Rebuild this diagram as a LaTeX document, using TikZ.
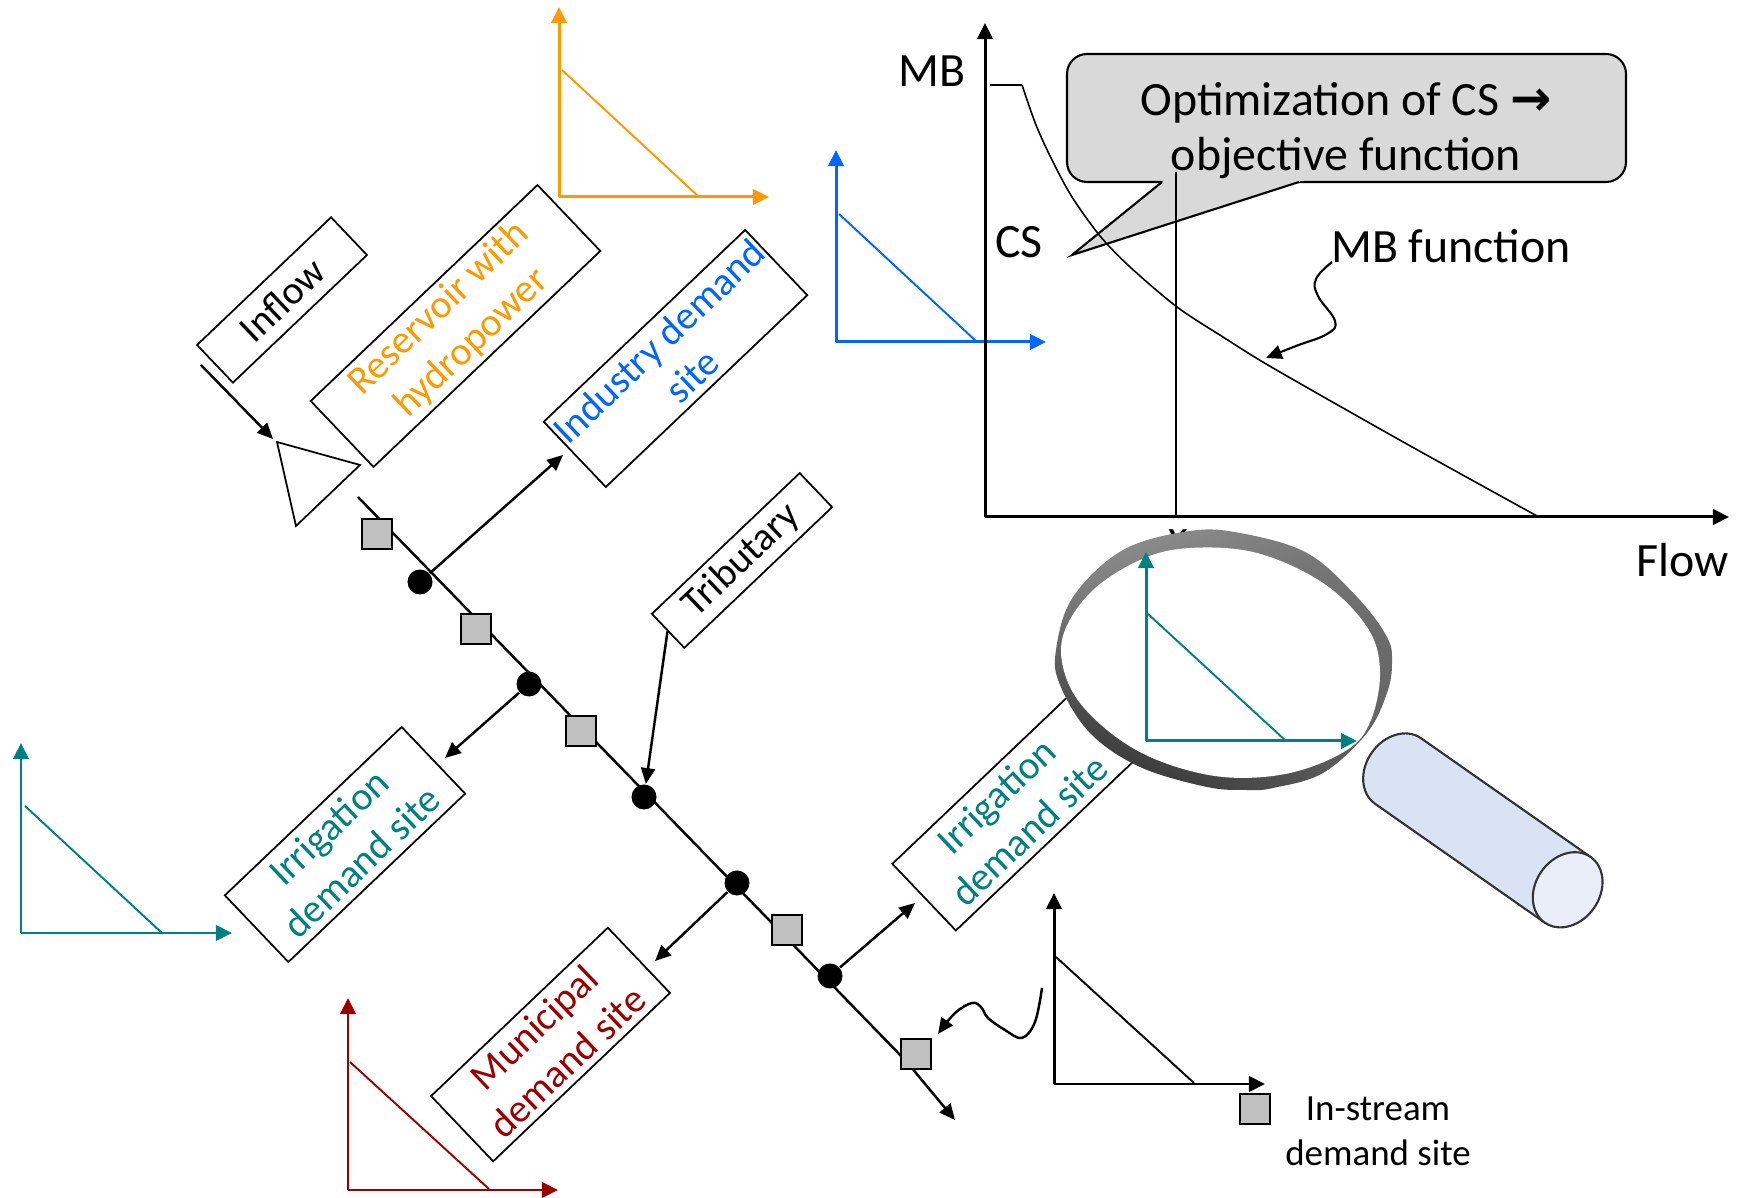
\documentclass[tikz,border=0pt]{standalone}
\usepackage{fontspec}
\setmainfont{Carlito}
\newfontfamily\symfont{DejaVu Sans}
\usetikzlibrary{arrows.meta,shadings}

\definecolor{orangeC}{RGB}{255,153,0}
\definecolor{blueC}{RGB}{0,102,255}
\definecolor{tealC}{RGB}{0,128,128}
\definecolor{redC}{RGB}{153,0,0}
\definecolor{markgray}{RGB}{192,192,192}
\definecolor{calloutgray}{RGB}{217,217,217}
\definecolor{handleC}{RGB}{218,227,243}
\definecolor{capC}{RGB}{233,238,248}
\definecolor{outlineC}{RGB}{51,51,51}

\begin{document}
\begin{tikzpicture}[x=0.01cm, y=-0.01cm,
  box/.style={draw, line width=0.5pt, inner sep=0pt, align=center, rotate=43.6,
    font=\fontsize{11.3}{13.6}\selectfont},
  axisline/.style={line width=0.85pt, -{Triangle[length=4.6pt,width=4.4pt]}},
  demand/.style={line width=0.55pt},
  flow/.style={line width=0.7pt, -{Triangle[length=4.5pt,width=4pt]}},
  junction/.style={circle, fill=black, minimum size=0.25cm, inner sep=0pt},
  gauge/.style={draw, line width=0.6pt, fill=markgray, minimum size=0.30cm, inner sep=0pt},
  biglabel/.style={font=\fontsize{13.6}{15.6}\selectfont, inner sep=0pt},
]
\useasboundingbox (0,0) rectangle (1739,1198);

% ---------- demand curves of the sites ----------
% hydropower (orange)
\draw[axisline, orangeC] (559,197) -- (559,7);
\draw[axisline, orangeC] (559,197) -- (769,197);
\draw[demand, orangeC] (562,70) -- (699,197);
% industry (blue)
\draw[axisline, blueC] (836,342) -- (836,150);
\draw[axisline, blueC] (836,342) -- (1046,342);
\draw[demand, blueC] (839,214) -- (977,342);
% irrigation, left (teal)
\draw[axisline, tealC] (21,933) -- (21,743);
\draw[axisline, tealC] (21,933) -- (232,933);
\draw[demand, tealC] (25,806) -- (162,933);
% municipal (red)
\draw[axisline, redC] (348,1190) -- (348,998);
\draw[axisline, redC] (348,1190) -- (558,1190);
\draw[demand, redC] (350,1062) -- (489,1189);
% in-stream (black)
\draw[axisline] (1054,1084) -- (1054,893);
\draw[axisline] (1054,1084) -- (1265,1084);
\draw[demand] (1056,957) -- (1194,1083);

% ---------- marginal benefit chart ----------
\draw[axisline] (985,517) -- (985,23);
\draw[axisline] (985,517) -- (1729,517);

% callout
\draw[line width=0.6pt, fill=calloutgray, rounded corners=0.2cm] (1067,54) rectangle (1626,182);
\fill[calloutgray] (1167,178) -- (1072,255) -- (1311,178) -- cycle;
\draw[line width=0.6pt, line join=miter] (1162,182) -- (1072,255) -- (1299,182);
\node[biglabel, align=center] (calltext) at (1346,131)
  {Optimization of CS {\fontsize{14}{14}\symfont\bfseries →}\\objective function};

% MB curve and optimum
\draw[line width=0.45pt] (990,85) -- (1022,85);
\draw[line width=0.45pt] plot[smooth, tension=0.5] coordinates
  {(1022,85) (1036,125) (1052,160) (1072,197) (1100,236) (1130,267) (1177,307)
   (1223,337) (1273,368) (1405,443) (1537,516)};
\draw[line width=0.45pt] (1176,172) -- (1176,517);

\node[biglabel] (mb) at (932,71) {MB};
\node[biglabel] (cs) at (1019,242) {CS};
\node[biglabel] (mbfun) at (1451,246) {MB function};
\node[biglabel] (flowlbl) at (1683,560) {Flow};
\draw[line width=0.6pt, -{Triangle[length=4.5pt,width=4pt]}] plot[smooth, tension=0.7] coordinates
  {(1332,262) (1316,279) (1318,296) (1335,321) (1327,334) (1296,346) (1266,358)};

% ---------- network elements ----------
\node[box, minimum width=1.85cm, minimum height=0.52cm] (inflow) at (282,300) {Inflow};
\node[box, minimum width=3.13cm, minimum height=0.91cm, text=orangeC] (reservoir) at (455.5,326) {Reservoir with\\hydropower};
\node[box, minimum width=2.78cm, minimum height=0.90cm, text=blueC] (industry) at (675.5,358.5) {Industry demand\\site};
\node[box, minimum width=2.04cm, minimum height=0.47cm] (tributary) at (742,560.5) {Tributary};
\node[box, minimum width=2.44cm, minimum height=0.92cm, text=tealC] (irrL) at (345,844.5) {Irrigation\\demand site};
\node[box, minimum width=2.44cm, minimum height=0.90cm, text=redC] (municipal) at (550.5,1044.5) {Municipal\\demand site};
\node[box, minimum width=2.44cm, minimum height=0.92cm, text=tealC] (irrR) at (1012.5,813) {Irrigation\\demand site};

% reservoir symbol and inflow
\draw[line width=0.5pt, fill=white] (277,442) -- (360,465) -- (296,526) -- cycle;
\coordinate (inflowtail) at (201,365);
\coordinate (inflowtip) at (273,439);
\draw[flow] (inflowtail) -- (inflowtip);

% main river
\coordinate (r0) at (358,497);
\coordinate (r1) at (906,1061);
\coordinate (r2) at (955,1120);
\draw[line width=0.7pt] (r0) -- (r1);
\draw[flow] (r1) -- (r2);

% junctions
\node[junction] (c1) at (420,582) {};
\node[junction] (c2) at (529,684) {};
\node[junction] (c3) at (644,797) {};
\node[junction] (c4) at (737,883) {};
\node[junction] (c5) at (830,976) {};
% in-stream gauges
\node[gauge] (s1) at (377,534) {};
\node[gauge] (s2) at (476,629) {};
\node[gauge] (s3) at (581,731) {};
\node[gauge] (s4) at (787,930) {};
\node[gauge] (s5) at (916,1054) {};

% withdrawals and inflows
\coordinate (indtip) at (563,455);
\coordinate (irrLtip) at (445,758);
\coordinate (munitip) at (655,961);
\coordinate (irrRtip) at (915,903);
\draw[flow] (c1) -- (indtip);
\draw[flow] (c2) -- (irrLtip);
\draw[flow] (c4) -- (munitip);
\draw[flow] (c5) -- (irrRtip);
\draw[flow] (tributary.west) -- (c3);

% in-stream demand link
\draw[line width=0.7pt, -{Triangle[length=4.5pt,width=4pt]}] plot[smooth, tension=0.6] coordinates
  {(1042,988) (1035,1022) (1022,1038) (1005,1030) (988,1018) (981,1007) (972,1003) (955,1013) (938,1034)};

% legend
\node[gauge] (legendsq) at (1255,1109) {};
\node[font=\fontsize{10.5}{12.8}\selectfont, align=center, inner sep=0pt] (legendtxt) at (1378,1131) {In-stream\\demand site};

% ---------- magnifying glass ----------
\node[font=\fontsize{13.6}{16}\selectfont\itshape, inner sep=0pt] (xopt) at (1177,541) {x};
% rim
\shade[upper left=black!40, upper right=black!55, lower left=black!85, lower right=black!62]
  plot[smooth cycle, tension=0.6] coordinates
  {(1056,650) (1073,597) (1123,550) (1190,531) (1240,533) (1307,553) (1357,597)
   (1387,637) (1392,663) (1387,693) (1367,733) (1323,773) (1273,788) (1247,790)
   (1207,787) (1140,767) (1090,733) (1060,685)};
% lens
\fill[white] plot[smooth cycle, tension=0.6] coordinates
  {(1062,640) (1090,593) (1140,560) (1190,548) (1257,553) (1323,583) (1367,627)
   (1380,670) (1371,720) (1347,750) (1290,773) (1223,777) (1157,760) (1107,730)
   (1071,689)};
% magnified irrigation demand curve
\draw[axisline, tealC] (1146,741) -- (1146,552);
\draw[axisline, tealC] (1146,741) -- (1357,741);
\draw[demand, tealC] (1148,614) -- (1286,741);
% handle
\begin{scope}[shift={(1398,771)}, x=1cm, y=1cm, rotate=-35]
  \filldraw[fill=handleC, draw=outlineC, line width=0.6pt]
    (0,0.4) -- (2.07,0.4) -- (2.07,-0.4) -- (0,-0.4)
    arc[start angle=270, end angle=90, x radius=0.32, y radius=0.4] -- cycle;
  \filldraw[fill=capC, draw=outlineC, line width=0.6pt] (2.07,0) ellipse [x radius=0.32, y radius=0.4];
\end{scope}
\end{tikzpicture}
\end{document}
